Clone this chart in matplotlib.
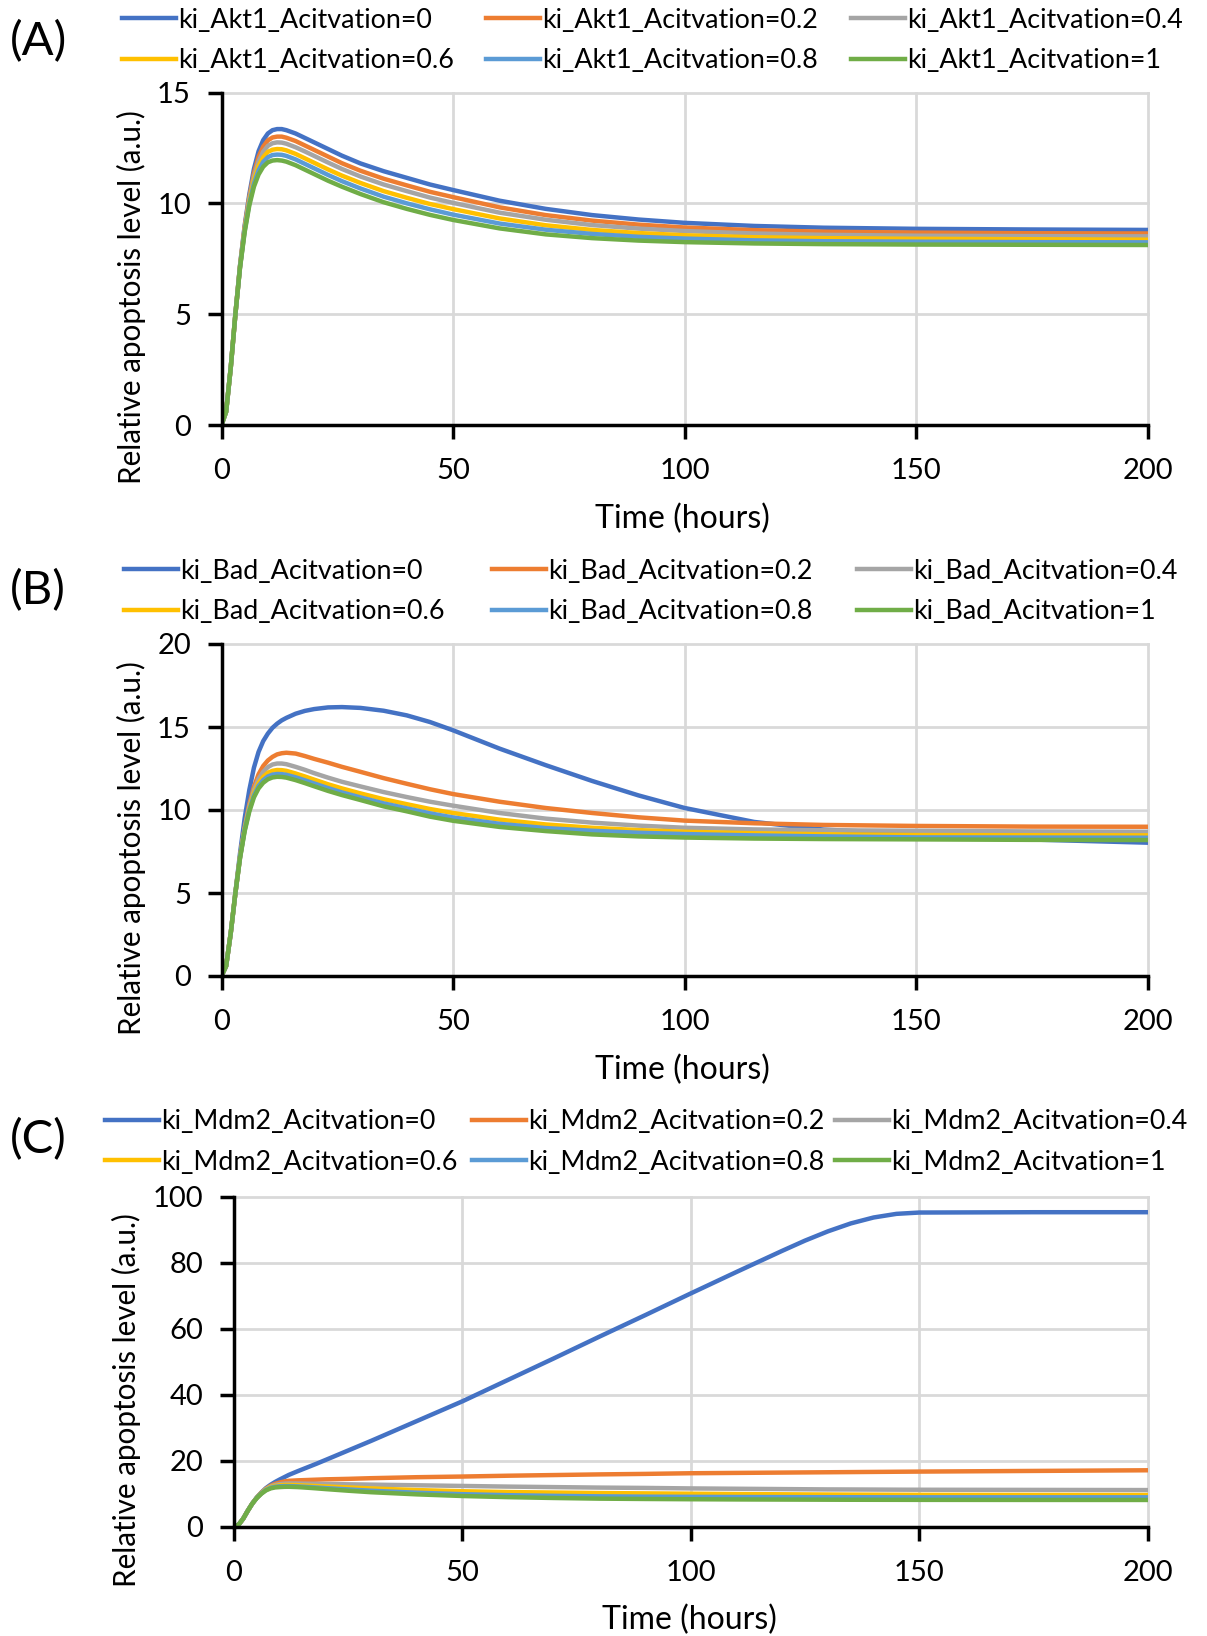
import matplotlib
matplotlib.use("Agg")
import matplotlib.pyplot as plt
from matplotlib.lines import Line2D

plt.rcParams['font.family'] = ['Lato', 'DejaVu Sans']

# ---------------- data ----------------
time_ab = [0, 1, 2, 3, 4, 5, 6, 7, 8, 9, 10, 11, 12, 13, 14, 16, 18, 20, 23, 26, 30, 35, 40, 45, 50,
           60, 70, 80, 90, 100, 115, 130, 150, 175, 200]
time_c = [0, 1, 2, 3, 4, 5, 6, 7, 8, 9, 10, 11, 12, 14, 16, 18, 20, 25, 30, 40, 50, 60, 70, 80, 90, 100,
          110, 120, 125, 130, 135, 140, 145, 150, 175, 200]

levels = ["0", "0.2", "0.4", "0.6", "0.8", "1"]

akt1_0 = [0, 0.6, 2.6, 5.0, 7.2, 9.0, 10.4, 11.55, 12.35, 12.85, 13.15, 13.3, 13.35, 13.35, 13.3, 13.15, 12.95, 12.75, 12.45, 12.15, 11.8, 11.45, 11.15, 10.85, 10.6,
          10.12, 9.75, 9.47, 9.27, 9.12, 8.98, 8.9, 8.85, 8.82, 8.8]
akt1_02 = [0, 0.6, 2.6, 5.0, 7.18, 8.93, 10.28, 11.36, 12.1, 12.56, 12.84, 12.97, 13.01, 13.01, 12.96, 12.81, 12.61, 12.41, 12.11, 11.81, 11.47, 11.11, 10.81, 10.52, 10.28,
           9.82, 9.47, 9.22, 9.04, 8.91, 8.79, 8.72, 8.68, 8.65, 8.64]
akt1_04 = [0, 0.6, 2.6, 5.0, 7.16, 8.87, 10.19, 11.21, 11.9, 12.33, 12.59, 12.71, 12.75, 12.74, 12.69, 12.53, 12.34, 12.14, 11.84, 11.55, 11.21, 10.85, 10.55, 10.26, 10.02,
           9.58, 9.26, 9.02, 8.86, 8.75, 8.64, 8.58, 8.54, 8.52, 8.51]
akt1_06 = [0, 0.6, 2.6, 5.0, 7.14, 8.81, 10.08, 11.04, 11.68, 12.08, 12.32, 12.42, 12.45, 12.44, 12.39, 12.23, 12.03, 11.83, 11.53, 11.25, 10.92, 10.55, 10.25, 9.97, 9.74,
           9.32, 9.01, 8.8, 8.66, 8.56, 8.47, 8.43, 8.4, 8.38, 8.36]
akt1_08 = [0, 0.6, 2.6, 5.0, 7.12, 8.75, 9.99, 10.89, 11.49, 11.87, 12.08, 12.18, 12.2, 12.19, 12.14, 11.98, 11.78, 11.58, 11.28, 11.0, 10.67, 10.3, 10.0, 9.73, 9.49,
           9.09, 8.81, 8.62, 8.49, 8.41, 8.33, 8.29, 8.27, 8.25, 8.24]
akt1_1 = [0, 0.6, 2.6, 5.0, 7.1, 8.7, 9.9, 10.75, 11.3, 11.65, 11.85, 11.93, 11.95, 11.93, 11.88, 11.72, 11.52, 11.32, 11.02, 10.75, 10.42, 10.05, 9.75, 9.48, 9.25,
          8.87, 8.6, 8.43, 8.32, 8.25, 8.19, 8.16, 8.14, 8.13, 8.12]

bad_0 = [0, 0.6, 2.6, 5.0, 7.4, 9.5, 11.2, 12.55, 13.5, 14.15, 14.6, 14.95, 15.2, 15.4, 15.55, 15.8, 15.97, 16.08, 16.18, 16.2, 16.15, 15.98, 15.7, 15.3, 14.8,
         13.7, 12.7, 11.75, 10.88, 10.12, 9.28, 8.82, 8.55, 8.22, 8.03]
bad_02 = [0, 0.6, 2.6, 5.0, 7.2, 8.95, 10.35, 11.4, 12.15, 12.65, 12.98, 13.2, 13.35, 13.42, 13.45, 13.4, 13.25, 13.08, 12.85, 12.6, 12.3, 11.92, 11.58, 11.25, 10.96,
          10.5, 10.12, 9.82, 9.56, 9.36, 9.2, 9.1, 9.04, 9.0, 8.99]
bad_04 = [0, 0.6, 2.6, 5.0, 7.18, 8.9, 10.22, 11.2, 11.88, 12.3, 12.58, 12.74, 12.8, 12.8, 12.76, 12.6, 12.42, 12.22, 11.95, 11.7, 11.42, 11.08, 10.78, 10.5, 10.26,
          9.82, 9.48, 9.24, 9.06, 8.93, 8.83, 8.78, 8.75, 8.71, 8.69]
bad_06 = [0, 0.6, 2.6, 5.0, 7.15, 8.83, 10.1, 11.02, 11.62, 12.0, 12.24, 12.36, 12.41, 12.4, 12.36, 12.2, 12.02, 11.83, 11.55, 11.3, 11.0, 10.65, 10.35, 10.06, 9.82,
          9.42, 9.13, 8.93, 8.79, 8.69, 8.6, 8.54, 8.49, 8.48, 8.47]
bad_08 = [0, 0.6, 2.6, 5.0, 7.13, 8.78, 10.0, 10.88, 11.45, 11.8, 12.02, 12.13, 12.17, 12.16, 12.12, 11.97, 11.79, 11.6, 11.32, 11.06, 10.76, 10.4, 10.1, 9.8, 9.55,
          9.17, 8.91, 8.75, 8.63, 8.55, 8.47, 8.41, 8.35, 8.34, 8.33]
bad_1 = [0, 0.6, 2.6, 5.0, 7.1, 8.72, 9.9, 10.76, 11.3, 11.64, 11.85, 11.96, 12.0, 11.99, 11.95, 11.8, 11.62, 11.43, 11.15, 10.9, 10.6, 10.22, 9.92, 9.6, 9.35,
         8.98, 8.73, 8.53, 8.41, 8.34, 8.28, 8.25, 8.23, 8.2, 8.19]

mdm2_0 = [0, 0.6, 2.4, 4.8, 7.0, 8.9, 10.4, 11.7, 12.7, 13.55, 14.3, 15.0, 15.7,
          16.85, 17.95, 19.05, 20.2, 23.1, 26.0, 32.0, 38.0, 44.5, 51.0, 57.6, 64.1, 70.7,
          77.2, 83.6, 86.7, 89.5, 91.9, 93.7, 94.8, 95.2, 95.3, 95.3]
mdm2_02 = [0, 0.6, 2.4, 4.8, 7.0, 8.8, 10.3, 11.5, 12.4, 13.0, 13.4, 13.7, 13.9,
           14.05, 14.15, 14.25, 14.35, 14.5, 14.7, 15.0, 15.2, 15.45, 15.65, 15.85, 16.0, 16.2,
           16.3, 16.4, 16.45, 16.5, 16.55, 16.6, 16.65, 16.7, 16.9, 17.1]
mdm2_04 = [0, 0.6, 2.4, 4.8, 7.0, 8.8, 10.25, 11.4, 12.2, 12.65, 12.9, 13.05, 13.1,
           13.08, 13.04, 13.0, 12.95, 12.85, 12.75, 12.55, 12.35, 12.15, 12.0, 11.85, 11.75, 11.6,
           11.5, 11.4, 11.35, 11.3, 11.28, 11.25, 11.22, 11.2, 11.15, 11.1]
mdm2_06 = [0, 0.6, 2.4, 4.8, 7.0, 8.8, 10.2, 11.3, 12.0, 12.35, 12.55, 12.63, 12.65,
           12.58, 12.45, 12.33, 12.2, 11.9, 11.6, 11.1, 10.75, 10.5, 10.35, 10.2, 10.1, 10.0,
           9.9, 9.82, 9.78, 9.75, 9.72, 9.7, 9.68, 9.66, 9.62, 9.6]
mdm2_08 = [0, 0.6, 2.4, 4.8, 7.0, 8.75, 10.1, 11.15, 11.8, 12.1, 12.25, 12.3, 12.3,
           12.2, 12.05, 11.88, 11.7, 11.3, 10.9, 10.3, 9.85, 9.55, 9.35, 9.2, 9.1, 9.05,
           9.0, 8.97, 8.95, 8.94, 8.93, 8.92, 8.91, 8.9, 8.9, 8.9]
mdm2_1 = [0, 0.6, 2.4, 4.8, 7.0, 8.7, 10.0, 11.0, 11.6, 11.9, 12.0, 12.08, 12.1,
          12.0, 11.82, 11.62, 11.4, 10.9, 10.45, 9.8, 9.3, 8.95, 8.7, 8.5, 8.4, 8.32,
          8.26, 8.22, 8.2, 8.18, 8.16, 8.15, 8.14, 8.13, 8.11, 8.1]

x_ticks = [0, 50, 100, 150, 200]
y_ticks_a = [0, 5, 10, 15]
y_ticks_b = [0, 5, 10, 15, 20]
y_ticks_c = [0, 20, 40, 60, 80, 100]

colors = ["#4472C4", "#ED7D31", "#A5A5A5", "#FFC000", "#5B9BD5", "#70AD47"]

panels = [
    dict(tag="(A)", name="Akt1", t=time_ab, series=[akt1_0, akt1_02, akt1_04, akt1_06, akt1_08, akt1_1],
         yt=y_ticks_a, rect=[221.5, 92.5, 1148, 425], leg_x=[122, 486, 851], leg_c=40.5, tag_y=41.5, ylab_x=131),
    dict(tag="(B)", name="Bad", t=time_ab, series=[bad_0, bad_02, bad_04, bad_06, bad_08, bad_1],
         yt=y_ticks_b, rect=[221.5, 644, 1148, 976], leg_x=[124, 492, 857], leg_c=591.5, tag_y=590.5, ylab_x=131),
    dict(tag="(C)", name="Mdm2", t=time_c, series=[mdm2_0, mdm2_02, mdm2_04, mdm2_06, mdm2_08, mdm2_1],
         yt=y_ticks_c, rect=[234, 1196.7, 1147.7, 1526.7], leg_x=[105, 472, 835], leg_c=1142, tag_y=1140, ylab_x=126),
]

W, H = 1207, 1636
fig = plt.figure(figsize=(W / 100, H / 100), dpi=100)

FS = 21
LEG_FS = 19.4

for p in panels:
    x0, y0, x1, y1 = p["rect"]
    ax = fig.add_axes([x0 / W, 1 - y1 / H, (x1 - x0) / W, (y1 - y0) / H])
    for s, c in zip(p["series"], colors):
        ax.plot(p["t"], s, color=c, lw=3.2, solid_capstyle='round', solid_joinstyle='round', zorder=3)
    ax.set_xlim(0, 200)
    ax.set_ylim(0, p["yt"][-1])
    ax.set_xticks(x_ticks)
    ax.set_yticks(p["yt"])
    ax.grid(True, color="#d9d9d9", lw=2.0, zorder=0)
    for gl in ax.get_xgridlines() + ax.get_ygridlines():
        gl.set_clip_on(False)
    ax.set_axisbelow(True)
    for sp in ["top", "right"]:
        ax.spines[sp].set_visible(False)
    for sp in ["left", "bottom"]:
        ax.spines[sp].set_linewidth(2.5)
        ax.spines[sp].set_color("black")
        ax.spines[sp].set_zorder(4)
    ax.tick_params(axis="both", direction="out", length=10, width=2.5, labelsize=FS, colors="black")
    ax.tick_params(axis="y", pad=12)
    ax.tick_params(axis="x", pad=14)
    ax.set_xlabel("Time (hours)", fontsize=23)
    ax.xaxis.label.set_verticalalignment("center")
    ax.xaxis.set_label_coords(0.498, -0.283, transform=ax.transAxes)
    ax.set_ylabel("Relative apoptosis level (a.u.)", fontsize=21.3)
    ax.yaxis.label.set_verticalalignment("center")
    ax.yaxis.set_label_coords((p["ylab_x"] - x0) / (x1 - x0), 0.385, transform=ax.transAxes)

    labels = ["ki_%s_Acitvation=%s" % (p["name"], lv) for lv in levels]
    for j in range(3):
        hs = [Line2D([], [], color=colors[j], lw=3.2), Line2D([], [], color=colors[j + 3], lw=3.2)]
        fig.legend(hs, [labels[j], labels[j + 3]], loc="center left",
                   bbox_to_anchor=(p["leg_x"][j] / W, 1 - p["leg_c"] / H),
                   frameon=False, fontsize=LEG_FS, handlelength=2.0, handletextpad=0.1,
                   borderpad=0, borderaxespad=0, labelspacing=0.58)
    fig.text(10 / W, 1 - p["tag_y"] / H, p["tag"], fontsize=34, ha="left", va="center")

fig.savefig("out.png", dpi=100)
